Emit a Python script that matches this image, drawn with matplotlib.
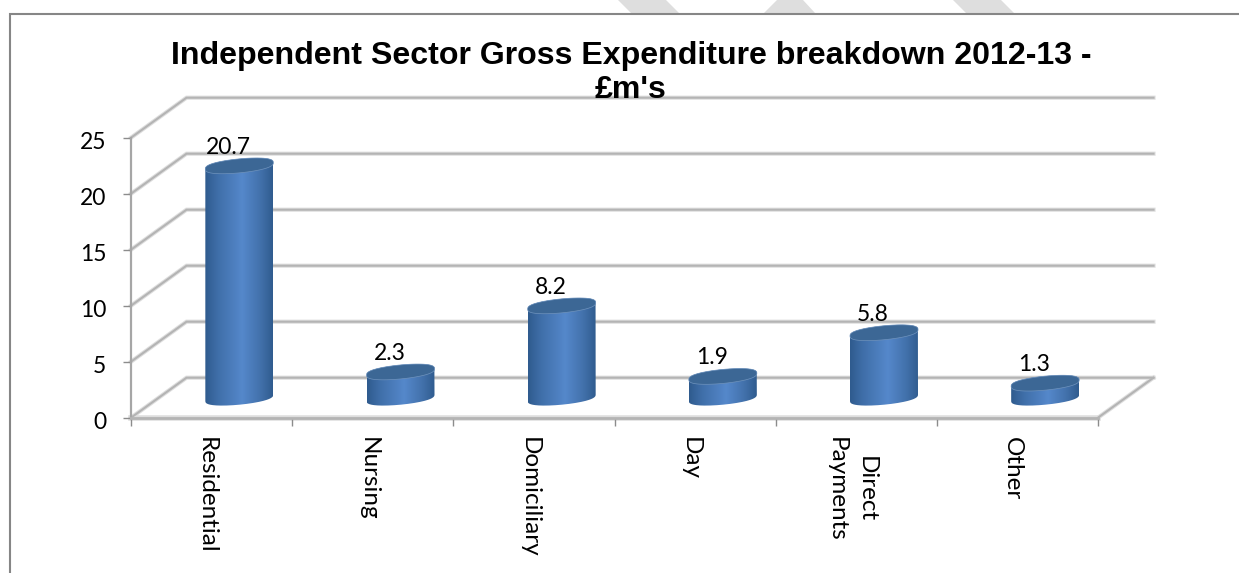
import numpy as np
import matplotlib
matplotlib.use("Agg")
import matplotlib.pyplot as plt
from matplotlib.colors import LinearSegmentedColormap
from matplotlib.patches import PathPatch, Polygon
from matplotlib.path import Path
from matplotlib.transforms import ScaledTranslation

W, H = 1239, 573

title = "Independent Sector Gross Expenditure breakdown 2012-13 -\n£m's"
categories = ["Residential", "Nursing", "Domiciliary", "Day", "Direct\nPayments", "Other"]
values = [20.7, 2.3, 8.2, 1.9, 5.8, 1.3]
y_ticks = [0, 5, 10, 15, 20, 25]

GRID = "#b4b4b4"
HALO = "#dedede"
AXIS = "#a6a6a6"
FRAME = "#868686"

fig = plt.figure(figsize=(W / 100, H / 100), dpi=100, facecolor="white")

# page decoration: frame and faint watermark stripes, in pixel coordinates
bg = fig.add_axes([0, 0, 1, 1], zorder=-1)
bg.set_xlim(0, W)
bg.set_ylim(H, 0)
bg.axis("off")
for p in ([(618, 0), (666, 0), (679, 13), (631, 13)],
          [(777, 0), (803, 0), (815, 13), (764, 13)],
          [(953, 0), (1001, 0), (1014, 13), (966, 13)]):
    bg.add_patch(Polygon(p, closed=True, fc="#dedede", ec="none"))
bg.plot([10, 10, W], [H, 14, 14], color=FRAME, lw=1.5, solid_joinstyle="miter")

# front plane of the 3-D box
L, R, T, B = 131, 1098, 137.7, 417.7
ax = fig.add_axes([L / W, 1 - B / H, (R - L) / W, (B - T) / H])
ax.set_xlim(0, 6)
ax.set_ylim(0, 25)
ax.patch.set_alpha(0)
px = 6 / (R - L)
py = 25 / (B - T)
depth_x = 55.5 * px
depth_y = 40 * py

for color, lw, z in ((HALO, 3.0, 0.9), (GRID, 1.5, 1)):
    for v in y_ticks:
        ax.plot([0, depth_x, 6 + depth_x], [v, v + depth_y, v + depth_y],
                color=color, lw=lw, clip_on=False, zorder=z, solid_joinstyle="miter")
    ax.plot([6, 6 + depth_x], [0, depth_y], color=color, lw=lw, clip_on=False, zorder=z)
ax.plot([0, 6], [0, 0], color=HALO, lw=4.0, clip_on=False, zorder=0.9)

for s in ("top", "right"):
    ax.spines[s].set_visible(False)
ax.spines["left"].set_color(AXIS)
ax.spines["left"].set_linewidth(1.6)
ax.spines["bottom"].set_color(GRID)
ax.spines["bottom"].set_linewidth(2.0)

ax.set_yticks(y_ticks)
ax.set_xticks(range(7))
ax.set_xticklabels([])
ax.set_xticks(np.arange(len(categories)) + 0.5, minor=True)
ax.set_xticklabels(categories, minor=True, rotation=270, ha="center", va="top",
                   fontfamily="Lato", fontsize=17.5, linespacing=1.5)
ax.tick_params(axis="x", which="major", length=5.8, width=1, color="#8c8c8c")
ax.tick_params(axis="x", which="minor", length=0, pad=14)
ax.tick_params(axis="y", length=5.8, width=1, color="#8c8c8c", pad=12)
for t in ax.get_yticklabels():
    t.set_fontfamily("Lato")
    t.set_fontsize(16.5)
    t.set_transform(t.get_transform() + ScaledTranslation(0, -3 / 100, fig.dpi_scale_trans))
for t in ax.get_xticklabels(minor=True):
    t.set_transform(t.get_transform() + ScaledTranslation(-5 / 100, 0, fig.dpi_scale_trans))

# cylinders
cmap = LinearSegmentedColormap.from_list(
    "cyl", [(0, "#2f5b8e"), (0.18, "#3f6ea8"), (0.55, "#5588cb"),
            (0.82, "#4271ab"), (1, "#305c8f")])
grad = np.linspace(0, 1, 128).reshape(1, -1)
a, b, k = 34 * px, 7.0 * py, 3.2 * py


def round_sin(t):
    # slightly squarer than a true ellipse, for the blunt ends of the caps
    return np.sign(np.sin(t)) * np.abs(np.sin(t)) ** 0.75


t_low = np.linspace(np.pi, 2 * np.pi, 80)
t_up = np.linspace(0, np.pi, 80)
t_all = np.linspace(0, 2 * np.pi, 160)

for i, v in enumerate(values):
    cx = i + 0.5 + depth_x / 2
    base = depth_y / 2
    top = base + v
    xs = np.r_[cx + a * np.cos(t_low), cx + a * np.cos(t_up)]
    ys = np.r_[base + k * np.cos(t_low) + b * round_sin(t_low),
               top + k * np.cos(t_up) + b * round_sin(t_up)]
    body = PathPatch(Path(np.c_[xs, ys]), fc="none", ec="none", transform=ax.transData)
    ax.add_patch(body)
    im = ax.imshow(grad, extent=[cx - a, cx + a, base - 2, top + 2], aspect="auto",
                   cmap=cmap, zorder=3, interpolation="bilinear")
    im.set_clip_path(body)
    ax.fill(cx + a * np.cos(t_all), top + k * np.cos(t_all) + b * round_sin(t_all),
            fc="#3c6795", ec="#6f93bd", lw=0.5, zorder=4, clip_on=False)
    ax.annotate(f"{v}", (cx, top), xytext=(-11 * 0.72, 18.5 * 0.72),
                textcoords="offset points", ha="center", va="center",
                fontfamily="Lato", fontsize=16.5, color="black", zorder=5,
                annotation_clip=False)

ax.set_xlim(0, 6)
ax.set_ylim(0, 25)

fig.text(631 / W, 1 - 73 / H, title, ha="center", va="center", multialignment="center",
         fontfamily="Liberation Sans", fontweight="bold", fontsize=23.1,
         linespacing=1.17, color="black", zorder=10)

fig.savefig("out.png", dpi=100)
